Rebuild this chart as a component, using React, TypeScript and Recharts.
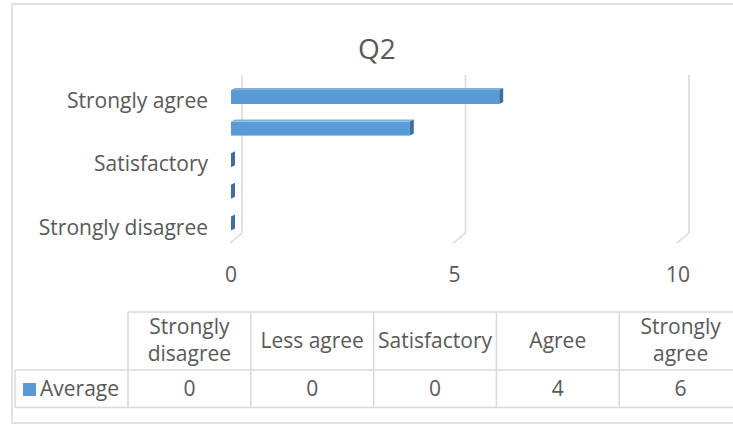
import { Bar, BarChart, CartesianGrid, XAxis, YAxis } from "recharts";

// Survey answers for Q2, listed bottom-to-top as they appear on the axis
const categories = [
  "Strongly disagree",
  "Less agree",
  "Satisfactory",
  "Agree",
  "Strongly agree",
];
const averages = [0, 0, 0, 4, 6];
const valueTicks = [0, 5, 10];
const seriesName = "Average";
const chartTitle = "Q2";

const data = categories.map((name, i) => ({ name, value: averages[i] }));

const FONT = "'Open Sans', sans-serif";
const FONT_SIZE = 21;
const TEXT = "#595959";
const LINE = "#d9d9d9";
const BLUE = "#5b9bd5";
const BLUE_SIDE = "#3e6f9f";
const BLUE_TOP = "#7fb1de";

// depth of the fake 3D extrusion on the bars
const DX = 4;
const DY = 2;

function Bar3D(props: any) {
  const { x, y, width, height } = props;
  const w = Math.max(0, width || 0);
  const top = `M${x},${y} L${x + DX},${y - DY} L${x + w + DX},${y - DY} L${x + w},${y} Z`;
  const side = `M${x + w},${y} L${x + w + DX},${y - DY} L${x + w + DX},${y + height - DY} L${x + w},${y + height} Z`;
  return (
    <g>
      {w > 0 && <rect x={x} y={y} width={w} height={height} fill={BLUE} />}
      {w > 0 && <path d={top} fill={BLUE_TOP} />}
      <path d={side} fill={BLUE_SIDE} />
    </g>
  );
}

// gridlines sit on the back wall and bend down to the floor
function WallLine(props: any) {
  const { x1, y1, y2, key } = props;
  const d = `M${x1 + 11},${y1 - 6} L${x1 + 11},${y2 - 6} L${x1 - 1},${y2 + 4}`;
  return <path key={key} d={d} fill="none" stroke={LINE} strokeWidth={1.5} />;
}

// data table under the plot
const TABLE_LEFT = 128;
const COL_W = 122.8;
const HEAD_TOP = 312;
const ROW_TOP = 370;
const ROW_BOTTOM = 407.5;

function headerLines(label: string) {
  if (label.length <= 12) return [label];
  const i = label.indexOf(" ");
  return [label.slice(0, i), label.slice(i + 1)];
}

function DataTable() {
  const right = 760;
  const cols = categories.map((_, i) => TABLE_LEFT + i * COL_W);
  return (
    <svg
      width={733}
      height={428}
      style={{ position: "absolute", left: 0, top: 0, pointerEvents: "none" }}
    >
      <rect x={12} y={4} width={760} height={419} fill="none" stroke={LINE} strokeWidth={1.5} />
      <text
        x={377}
        y={49}
        textAnchor="middle"
        dy="0.355em"
        fontFamily={FONT}
        fontSize={28}
        fill={TEXT}
      >
        {chartTitle}
      </text>

      <g stroke={LINE} strokeWidth={1.5}>
        <line x1={TABLE_LEFT} y1={HEAD_TOP} x2={right} y2={HEAD_TOP} />
        <line x1={15} y1={ROW_TOP} x2={right} y2={ROW_TOP} />
        <line x1={15} y1={ROW_BOTTOM} x2={right} y2={ROW_BOTTOM} />
        <line x1={15} y1={ROW_TOP} x2={15} y2={ROW_BOTTOM} />
        {[...cols, TABLE_LEFT + categories.length * COL_W].map((cx) => (
          <line key={cx} x1={cx} y1={HEAD_TOP} x2={cx} y2={ROW_BOTTOM} />
        ))}
      </g>

      <g fontFamily={FONT} fontSize={FONT_SIZE} fill={TEXT} textAnchor="middle">
        {categories.map((c, i) => {
          const lines = headerLines(c);
          const cx = cols[i] + COL_W / 2;
          const mid = (HEAD_TOP + ROW_TOP) / 2 - 0.5;
          return lines.map((t, j) => (
            <text
              key={c + j}
              x={cx}
              y={mid + (j - (lines.length - 1) / 2) * 27}
              dy="0.355em"
            >
              {t}
            </text>
          ));
        })}
        {averages.map((v, i) => (
          <text key={i} x={cols[i] + COL_W / 2} y={389} dy="0.355em">
            {v}
          </text>
        ))}
      </g>

      <rect x={23} y={383} width={13} height={13} fill={BLUE} />
      <text
        x={40}
        y={389}
        dy="0.355em"
        fontFamily={FONT}
        fontSize={FONT_SIZE}
        fill={TEXT}
      >
        {seriesName}
      </text>
    </svg>
  );
}

export default function App() {
  return (
    <div
      style={{
        position: "absolute",
        left: 0,
        top: 0,
        width: 733,
        height: 428,
        background: "#fff",
      }}
    >
      <BarChart
        width={733}
        height={428}
        data={data}
        layout="vertical"
        margin={{ top: 81, right: 55, bottom: 159, left: 31 }}
        barSize={14}
      >
        <CartesianGrid horizontal={false} vertical={(p: any) => <WallLine {...p} />} />
        <XAxis
          type="number"
          domain={[0, 10]}
          ticks={valueTicks}
          axisLine={false}
          tickLine={false}
          tickSize={0}
          tickMargin={28}
          height={30}
          tick={{ fill: TEXT, fontSize: FONT_SIZE, fontFamily: FONT }}
        />
        <YAxis
          type="category"
          dataKey="name"
          reversed
          width={200}
          interval={1}
          axisLine={false}
          tickLine={false}
          tickSize={0}
          tickMargin={23}
          tick={{ fill: TEXT, fontSize: FONT_SIZE, fontFamily: FONT, dy: 4 }}
        />
        <Bar
          dataKey="value"
          name={seriesName}
          fill={BLUE}
          shape={<Bar3D />}
          isAnimationActive={false}
        />
      </BarChart>
      <DataTable />
    </div>
  );
}
